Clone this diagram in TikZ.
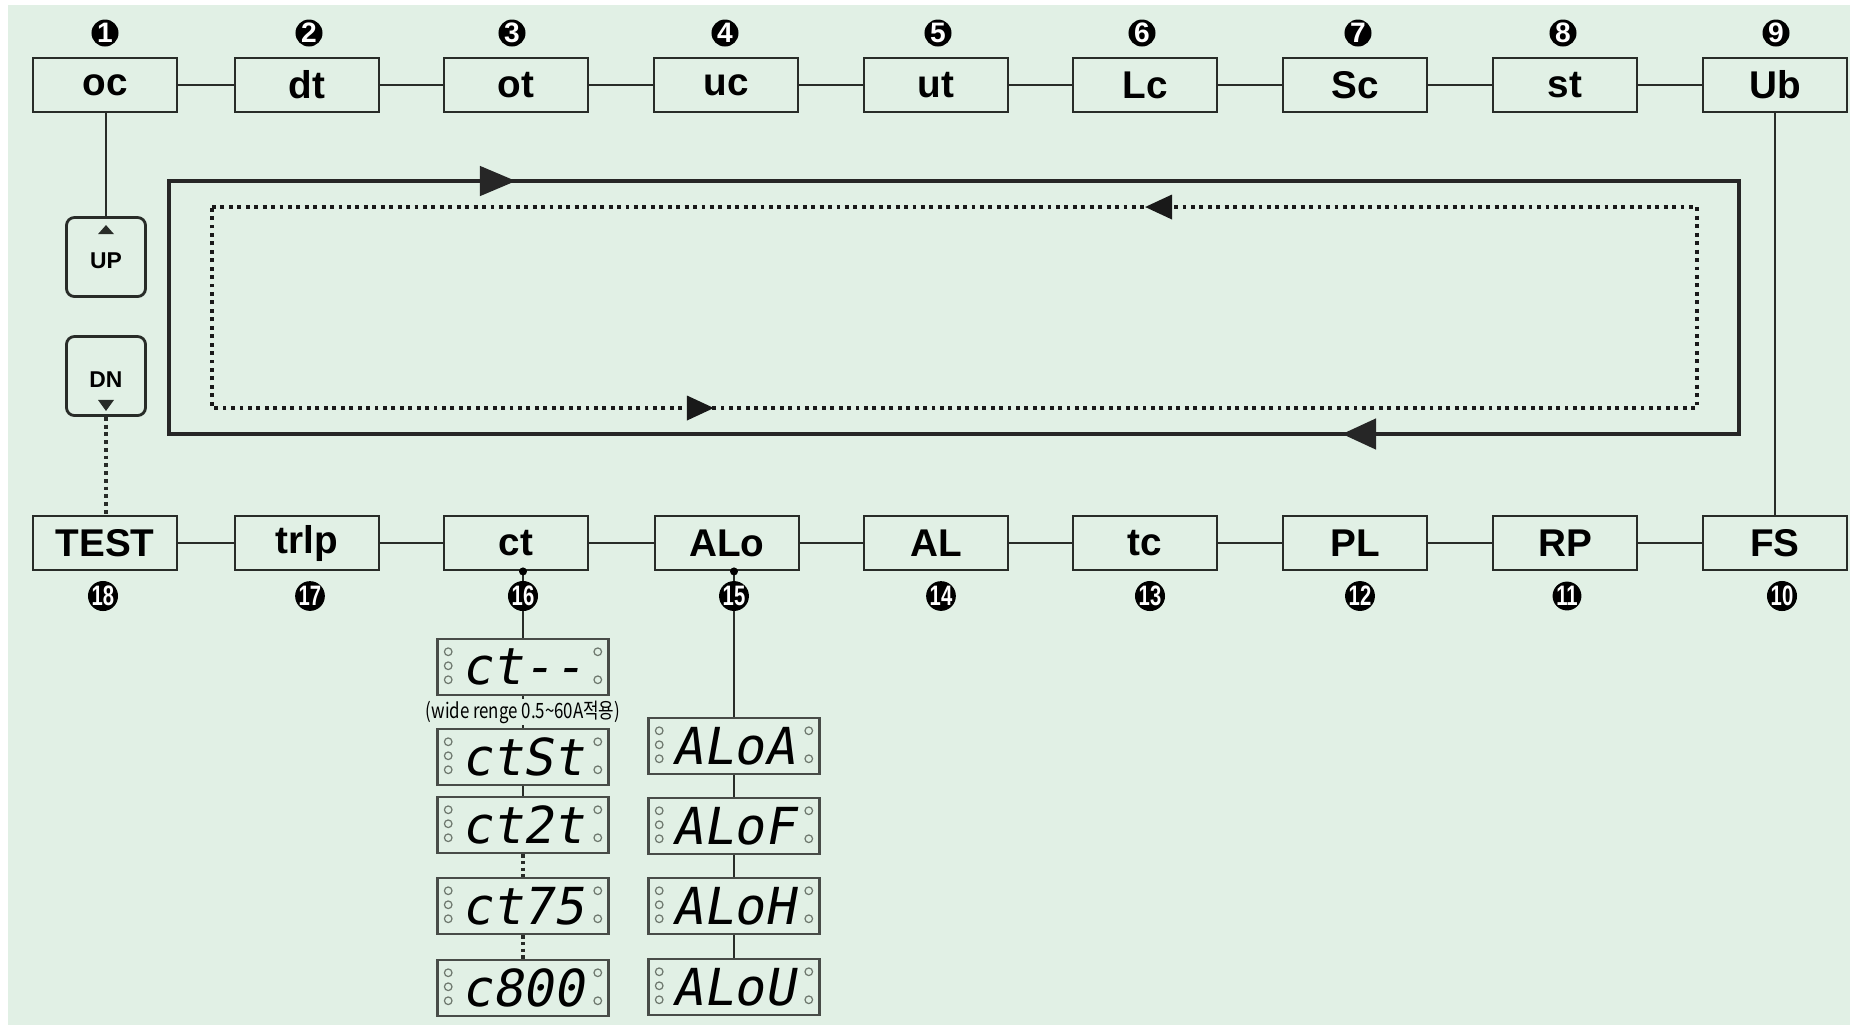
\documentclass[tikz,border=0pt]{standalone}
\usepackage{fontspec}
\usepackage{graphicx}
\setmainfont{Liberation Sans}
\newfontfamily\segfont{DejaVu Sans Mono}[FakeSlant=0.18, Ligatures=TeXOff]
\newfontfamily\krfont{Noto Sans CJK KR}
\usetikzlibrary{arrows.meta}

\definecolor{panelbg}{RGB}{225,240,229}
\definecolor{inkgray}{RGB}{40,44,40}
\definecolor{ledgray}{RGB}{110,120,110}

% indicator lamps of a display window
\newcommand{\segleds}[1]{%
  \foreach \dy in {14,28,42}
    \draw[led] ([shift={(12,\dy)}]#1.north west) circle[radius=0.38mm];
  \foreach \dy in {14,42}
    \draw[led] ([shift={(-12,\dy)}]#1.north east) circle[radius=0.38mm];%
}
\newcommand{\twodig}[1]{\scalebox{0.72}[1]{#1}}

\begin{document}
\begin{tikzpicture}[x=0.01cm, y=-0.01cm,
  menu node/.style={rectangle, draw=inkgray, line width=0.8pt, minimum width=1.44cm, minimum height=0.54cm, inner sep=0pt, font=\fontsize{11}{13}\selectfont\bfseries},
  num node/.style={circle, fill=black, text=white, inner sep=0pt, minimum size=0.27cm, font=\fontsize{8}{9}\selectfont\bfseries},
  key node/.style={rectangle, rounded corners=0.08cm, draw=inkgray, line width=0.8pt, minimum size=0.79cm, inner sep=0pt},
  key text/.style={inner sep=0pt, font=\fontsize{6.5}{7}\selectfont\bfseries},
  seg node/.style={rectangle, draw=inkgray!85, line width=0.7pt, minimum width=1.71cm, minimum height=0.56cm, inner sep=0pt, font=\segfont\fontsize{14.5}{15}\selectfont},
  link/.style={draw=inkgray, line width=0.8pt},
  dot link/.style={draw=inkgray, line width=0.9pt, dash pattern=on 1.1pt off 1.1pt},
  thick dot/.style={draw=inkgray, line width=1.3pt, dash pattern=on 1pt off 0.9pt},
  led/.style={draw=ledgray, line width=0.35pt},
  big loop/.style={draw=black!85, line width=1.3pt},
  dot loop/.style={draw=black!90, line width=1pt, dash pattern=on 1.1pt off 1.3pt}]

\useasboundingbox (0,0) rectangle (1850,1026);
\fill[panelbg] (8,5) rectangle (1850,1025);

% top row
\node[menu node] (oc) at (105,85) {oc};
\node[menu node] (dt) at (307,85) {dt};
\node[menu node] (ot) at (516,85) {ot};
\node[menu node] (uc) at (726,85) {uc};
\node[menu node] (ut) at (936,85) {ut};
\node[menu node] (lc) at (1145,85) {Lc};
\node[menu node] (sc) at (1355,85) {Sc};
\node[menu node] (st) at (1565,85) {st};
\node[menu node] (ub) at (1775,85) {Ub};
\draw[link] (oc) -- (dt) -- (ot) -- (uc) -- (ut) -- (lc) -- (sc) -- (st) -- (ub);

\node[num node] (n1) at (105,33) {1};
\node[num node] (n2) at (309,33) {2};
\node[num node] (n3) at (512,33) {3};
\node[num node] (n4) at (725,33) {4};
\node[num node] (n5) at (938,33) {5};
\node[num node] (n6) at (1142,33) {6};
\node[num node] (n7) at (1358,33) {7};
\node[num node] (n8) at (1563,33) {8};
\node[num node] (n9) at (1776,33) {9};

% bottom row
\node[menu node] (test) at (105,543) {TEST};
\node[menu node] (trip) at (307,543) {trlp};
\node[menu node] (ct) at (516,543) {ct};
\node[menu node] (alo) at (727,543) {ALo};
\node[menu node] (al) at (936,543) {AL};
\node[menu node] (tc) at (1145,543) {tc};
\node[menu node] (pl) at (1355,543) {PL};
\node[menu node] (rp) at (1565,543) {RP};
\node[menu node] (fs) at (1775,543) {FS};
\draw[link] (test) -- (trip) -- (ct) -- (alo) -- (al) -- (tc) -- (pl) -- (rp) -- (fs);
\draw[link] (ub.south) -- (fs.north);

% up / down keys
\node[key node] (up) at (106,257) {};
\node[key node] (dn) at (106,376) {};
\node[key text] (uptxt) at (106,261) {UP};
\node[key text] (dntxt) at (106,380) {DN};
\fill[inkgray] ([shift={(-8,18)}]up.north) -- ([shift={(8,18)}]up.north) -- ([shift={(0,9)}]up.north) -- cycle;
\fill[inkgray] ([shift={(-8,-17)}]dn.south) -- ([shift={(8,-17)}]dn.south) -- ([shift={(0,-6)}]dn.south) -- cycle;
\draw[link] (up.north) -- (up.north |- oc.south);
\draw[dot link] (dn.south) -- (dn.south |- test.north);

% scroll loops
\coordinate (lp1) at (169,181);
\coordinate (lp2) at (1739,181);
\coordinate (lp3) at (1739,434);
\coordinate (lp4) at (169,434);
\draw[big loop] (lp1) -- (lp2) -- (lp3) -- (lp4) -- cycle;
\coordinate (tip1) at (516,181);
\coordinate (tip2) at (1342,434);
\draw[big loop, -{Triangle[length=3.6mm, width=2.9mm]}] ([shift={(-40,0)}]tip1) -- (tip1);
\draw[big loop, -{Triangle[length=3.4mm, width=3mm]}] ([shift={(40,0)}]tip2) -- (tip2);

\coordinate (dl1) at (212,207);
\coordinate (dl2) at (1697,207);
\coordinate (dl3) at (1697,408);
\coordinate (dl4) at (212,408);
\draw[dot loop] (dl1) -- (dl2) -- (dl3) -- (dl4) -- cycle;
\coordinate (tip3) at (1145,207);
\coordinate (tip4) at (714,408);
\draw[dot loop, solid, -{Triangle[length=2.7mm, width=2.4mm]}] ([shift={(27,0)}]tip3) -- (tip3);
\draw[dot loop, solid, -{Triangle[length=2.7mm, width=2.4mm]}] ([shift={(-27,0)}]tip4) -- (tip4);

% ct settings
\node[seg node] (ctnone) at (523,667) {ct--};
\node[seg node] (ctst) at (523,757) {ctSt};
\node[seg node] (ct2t) at (523,825) {ct2t};
\node[seg node] (ct75) at (523,906) {ct75};
\node[seg node] (c800) at (523,988) {c800};
\draw[link] (ctnone.north |- ct.south) -- (ctnone.north);
\fill[black] (ctnone.north |- ct.south) circle[radius=0.4mm];
\draw[link] (ctnone) -- (ctst);
\draw[link] (ctst) -- (ct2t);
\draw[thick dot] (ct2t) -- (ct75);
\draw[thick dot] (ct75) -- (c800);
\node[fill=panelbg, inner sep=0.5pt, font=\krfont\fontsize{6}{7}\selectfont] (wide) at (523,712) {\scalebox{0.8}[1]{(wide renge 0.5\textasciitilde60A적용)}};
\foreach \win in {ctnone,ctst,ct2t,ct75,c800} {\segleds{\win}}

% alarm output settings
\node[seg node] (aloa) at (734,746) {ALoA};
\node[seg node] (alof) at (734,826) {ALoF};
\node[seg node] (aloh) at (734,906) {ALoH};
\node[seg node] (alou) at (734,987) {ALoU};
\draw[link] (aloa.north |- alo.south) -- (aloa.north);
\fill[black] (aloa.north |- alo.south) circle[radius=0.4mm];
\draw[link] (aloa) -- (alof) -- (aloh) -- (alou);
\foreach \win in {aloa,alof,aloh,alou} {\segleds{\win}}

\node[num node] (n18) at (103,596) {\twodig{18}};
\node[num node] (n17) at (310,596) {\twodig{17}};
\node[num node] (n16) at (523,596) {\twodig{16}};
\node[num node] (n15) at (734,596) {\twodig{15}};
\node[num node] (n14) at (941,596) {\twodig{14}};
\node[num node] (n13) at (1150,596) {\twodig{13}};
\node[num node] (n12) at (1360,596) {\twodig{12}};
\node[num node] (n11) at (1567,596) {\twodig{11}};
\node[num node] (n10) at (1782,596) {\twodig{10}};
\end{tikzpicture}
\end{document}
